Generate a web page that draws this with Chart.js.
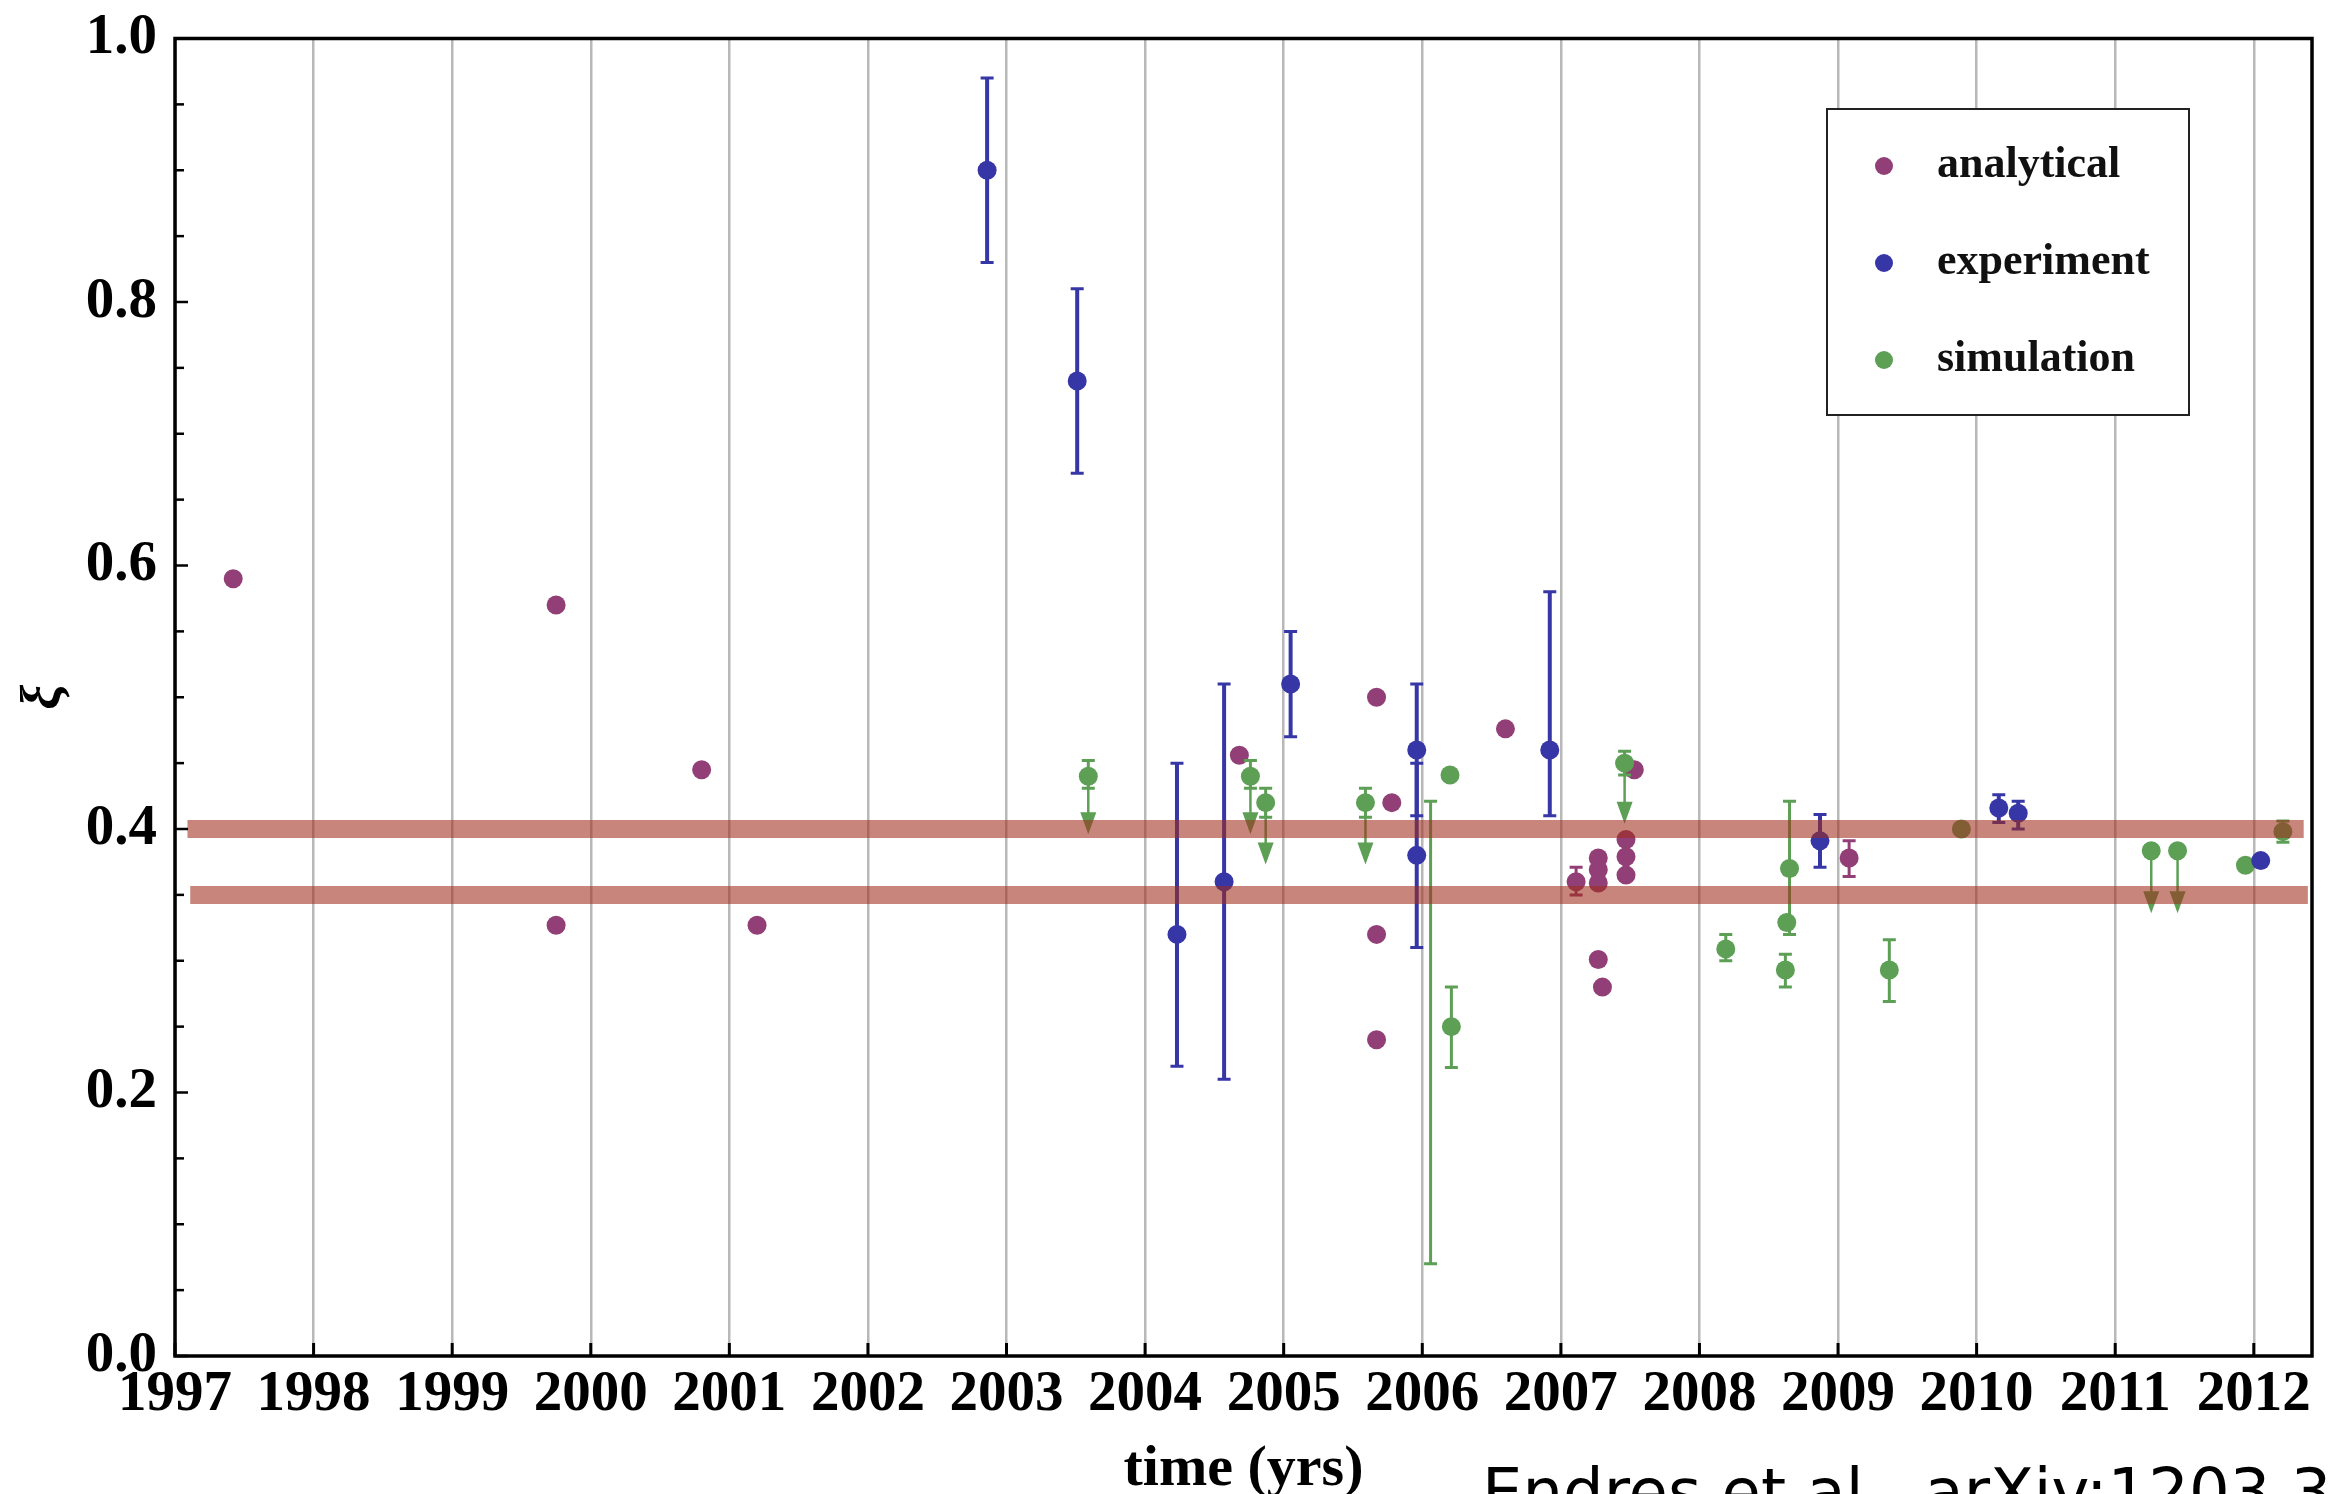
<!DOCTYPE html>
<html>
<head>
<meta charset="utf-8">
<title>xi versus time</title>
<script src="https://cdn.jsdelivr.net/npm/chart.js@4.4.1/dist/chart.umd.min.js"></script>
<style>
  html, body { margin: 0; padding: 0; background: #fff; }
  #wrap { width: 2338px; height: 1494px; }
</style>
</head>
<body>
<div id="wrap"><canvas id="xiChart" width="2338" height="1494"></canvas></div>
<script>
// values (year, xi, error range, upper-limit arrow)
const analyticalYear = [1997.42, 1999.75, 1999.75, 2000.80, 2001.20, 2004.68, 2005.67, 2005.78, 2005.67, 2005.67, 2006.60,
                        2007.11, 2007.27, 2007.27, 2007.27, 2007.27, 2007.30, 2007.47, 2007.47, 2007.47, 2007.53, 2009.08];
const analyticalXi   = [0.590, 0.570, 0.327, 0.445, 0.327, 0.456, 0.500, 0.420, 0.320, 0.240, 0.476,
                        0.360, 0.378, 0.369, 0.359, 0.301, 0.280, 0.392, 0.379, 0.365, 0.445, 0.378];
const analyticalLow  = [null, null, null, null, null, null, null, null, null, null, null,
                        0.350, null, null, null, null, null, null, null, null, null, 0.364];
const analyticalHigh = [null, null, null, null, null, null, null, null, null, null, null,
                        0.371, null, null, null, null, null, null, null, null, null, 0.391];

const experimentYear = [2002.86, 2003.51, 2004.23, 2004.57, 2005.05, 2005.96, 2005.96, 2006.92, 2008.87, 2010.16, 2010.30, 2012.05];
const experimentXi   = [0.900, 0.740, 0.320, 0.360, 0.510, 0.460, 0.380, 0.460, 0.391, 0.416, 0.412, 0.376];
const experimentLow  = [0.830, 0.670, 0.220, 0.210, 0.470, 0.410, 0.310, 0.410, 0.371, 0.405, 0.400, null];
const experimentHigh = [0.970, 0.810, 0.450, 0.510, 0.550, 0.510, 0.450, 0.580, 0.411, 0.426, 0.421, null];

const simulationYear  = [2003.59, 2004.76, 2004.87, 2005.59, 2006.06, 2006.20, 2006.21, 2007.46, 2008.19, 2008.65,
                         2008.63, 2008.62, 2009.37, 2009.89, 2011.26, 2011.45, 2011.94, 2012.21];
const simulationXi    = [0.440, 0.440, 0.420, 0.420, 0.245, 0.441, 0.250, 0.450, 0.309, 0.370,
                         0.329, 0.293, 0.293, 0.400, 0.3835, 0.3835, 0.3725, 0.398];
const simulationLow   = [0.431, 0.431, 0.409, 0.409, 0.070, null, 0.219, 0.441, 0.300, 0.320,
                         null, 0.280, 0.269, null, null, null, null, 0.390];
const simulationHigh  = [0.452, 0.452, 0.431, 0.431, 0.421, null, 0.280, 0.459, 0.320, 0.421,
                         null, 0.305, 0.316, null, null, null, null, 0.406];
const simulationLimit = [0.396, 0.396, 0.373, 0.373, null, null, null, 0.404, null, null,
                         null, null, null, null, 0.336, 0.336, null, null];
const simulationShown = [1, 1, 1, 1, 0, 1, 1, 1, 1, 1, 1, 1, 1, 1, 1, 1, 1, 1];

// the two reference bands
const bandLevel = [0.40, 0.35];
const bandFrom  = [1997.09, 1997.11];
const bandTo    = [2012.36, 2012.39];

const yearTicks = [1997, 1998, 1999, 2000, 2001, 2002, 2003, 2004, 2005, 2006, 2007, 2008, 2009, 2010, 2011, 2012];
const xiLabels  = [0.0, 0.2, 0.4, 0.6, 0.8, 1.0];

const PURPLE = '#913f76';
const BLUE = '#3636a6';
const GREEN = '#5c9f55';
const BAND = 'rgba(160, 45, 28, 0.58)';

function makePoints(years, values, lows, highs, limits, shown) {
    return years.map((x, i) => ({
        x: x,
        y: values[i],
        lo: lows ? lows[i] : null,
        hi: highs ? highs[i] : null,
        limit: limits ? limits[i] : null,
        shown: shown ? shown[i] : 1
    }));
}

function bandData(i) {
    return [{ x: bandFrom[i], y: bandLevel[i] }, { x: bandTo[i], y: bandLevel[i] }];
}

// white page behind everything
const paperPlugin = {
    id: 'paper',
    beforeDraw(chart) {
        const ctx = chart.ctx;
        ctx.save();
        ctx.fillStyle = '#fff';
        ctx.fillRect(0, 0, chart.width, chart.height);
        ctx.restore();
    }
};

// error bars and upper-limit arrows, drawn under each series' markers
const errorBarPlugin = {
    id: 'errorBars',
    beforeDatasetDraw(chart, args) {
        const ds = chart.data.datasets[args.index];
        if (ds.isBand) return;
        const ctx = chart.ctx;
        const x = chart.scales.x, y = chart.scales.y;
        ctx.save();
        ctx.strokeStyle = ds.backgroundColor;
        ctx.fillStyle = ds.backgroundColor;
        ds.data.forEach(p => {
            const px = x.getPixelForValue(p.x);
            if (p.lo != null && p.hi != null) {
                const top = y.getPixelForValue(p.hi);
                const bot = y.getPixelForValue(p.lo);
                ctx.lineWidth = ds.barWidth;
                ctx.beginPath();
                ctx.moveTo(px, top);
                ctx.lineTo(px, bot);
                ctx.stroke();
                ctx.lineWidth = 3;
                ctx.beginPath();
                ctx.moveTo(px - 6.5, top); ctx.lineTo(px + 6.5, top);
                ctx.moveTo(px - 6.5, bot); ctx.lineTo(px + 6.5, bot);
                ctx.stroke();
            }
            if (p.limit != null) {
                const py = y.getPixelForValue(p.y);
                const tip = y.getPixelForValue(p.limit);
                ctx.lineWidth = 2.5;
                ctx.beginPath();
                ctx.moveTo(px, py);
                ctx.lineTo(px, tip - 20);
                ctx.stroke();
                ctx.beginPath();
                ctx.moveTo(px - 8, tip - 22);
                ctx.lineTo(px + 8, tip - 22);
                ctx.lineTo(px, tip);
                ctx.closePath();
                ctx.fill();
            }
        });
        ctx.restore();
    }
};

// frame, inward ticks, legend box and the citation line
const framePlugin = {
    id: 'frame',
    afterDraw(chart) {
        const ctx = chart.ctx;
        const area = chart.chartArea;
        const x = chart.scales.x, y = chart.scales.y;
        ctx.save();
        ctx.strokeStyle = '#000';
        ctx.lineWidth = 3;
        x.ticks.forEach(t => {
            const px = x.getPixelForValue(t.value);
            ctx.beginPath();
            ctx.moveTo(px, area.bottom);
            ctx.lineTo(px, area.bottom - 13);
            ctx.stroke();
        });
        ctx.lineWidth = 2.5;
        y.ticks.forEach(t => {
            const py = y.getPixelForValue(t.value);
            const major = Math.abs(t.value * 5 - Math.round(t.value * 5)) < 1e-6;
            ctx.beginPath();
            ctx.moveTo(area.left, py);
            ctx.lineTo(area.left + (major ? 13 : 9), py);
            ctx.stroke();
        });
        ctx.lineWidth = 3.5;
        ctx.strokeRect(area.left, area.top, area.right - area.left, area.bottom - area.top);

        // legend
        const lx = 1827, ly = 109, lw = 362, lh = 306;
        ctx.fillStyle = '#fff';
        ctx.fillRect(lx, ly, lw, lh);
        ctx.strokeStyle = '#222';
        ctx.lineWidth = 2;
        ctx.strokeRect(lx, ly, lw, lh);
        const series = chart.data.datasets.filter(d => !d.isBand);
        ctx.font = 'bold 44px "Liberation Serif"';
        ctx.textBaseline = 'middle';
        ctx.textAlign = 'left';
        series.forEach((d, i) => {
            const cy = ly + 57 + i * 97;
            ctx.fillStyle = d.backgroundColor;
            ctx.beginPath();
            ctx.arc(lx + 57, cy, 9, 0, Math.PI * 2);
            ctx.fill();
            ctx.fillStyle = '#111';
            ctx.fillText(d.label, lx + 110, cy);
        });

        // citation, cut off by the bottom edge as in the source
        ctx.fillStyle = '#000';
        ctx.textBaseline = 'alphabetic';
        ctx.font = '64px "DejaVu Sans"';
        ctx.fillText('Endres et al., arXiv:1203.3', 1482, 1514);
        ctx.restore();
    }
};

const ctx = document.getElementById('xiChart').getContext('2d');
const xiChart = new Chart(ctx, {
    type: 'scatter',
    data: {
        datasets: [
            {
                label: 'analytical',
                data: makePoints(analyticalYear, analyticalXi, analyticalLow, analyticalHigh),
                backgroundColor: PURPLE,
                barWidth: 3,
                order: 3
            },
            {
                label: 'experiment',
                data: makePoints(experimentYear, experimentXi, experimentLow, experimentHigh),
                backgroundColor: BLUE,
                barWidth: 4,
                order: 1
            },
            {
                label: 'simulation',
                data: makePoints(simulationYear, simulationXi, simulationLow, simulationHigh, simulationLimit, simulationShown),
                backgroundColor: GREEN,
                barWidth: 3,
                order: 2
            },
            {
                type: 'line', label: 'band 0.40', isBand: true, data: bandData(0),
                borderColor: BAND, borderWidth: 18, borderCapStyle: 'butt',
                showLine: true, pointRadius: 0, fill: false, order: -1
            },
            {
                type: 'line', label: 'band 0.35', isBand: true, data: bandData(1),
                borderColor: BAND, borderWidth: 18, borderCapStyle: 'butt',
                showLine: true, pointRadius: 0, fill: false, order: -1
            }
        ]
    },
    options: {
        responsive: false,
        devicePixelRatio: 1,
        animation: false,
        events: [],
        layout: { padding: { top: 36, right: 26, left: 0, bottom: 0 } },
        elements: {
            point: {
                radius: ctx => (ctx.raw && ctx.raw.shown === 0) ? 0 : 9.5,
                borderWidth: 0
            }
        },
        plugins: {
            legend: { display: false },
            tooltip: { enabled: false }
        },
        scales: {
            x: {
                type: 'linear',
                min: 1997,
                max: 2012.42,
                afterBuildTicks: scale => { scale.ticks = yearTicks.map(v => ({ value: v })); },
                afterFit: scale => { scale.height = 138; },
                border: { display: false },
                grid: { color: '#b8b8b8', lineWidth: 2.5, drawTicks: false },
                ticks: {
                    autoSkip: false,
                    maxRotation: 0,
                    padding: 11,
                    color: '#000',
                    font: { family: 'Liberation Serif', size: 57, weight: 'bold', lineHeight: 1 },
                    callback: v => String(Math.round(v))
                },
                title: {
                    display: true,
                    text: 'time (yrs)',
                    color: '#000',
                    padding: { top: 0, bottom: 1 },
                    font: { family: 'Liberation Serif', size: 58, weight: 'bold', lineHeight: 0.8 }
                }
            },
            y: {
                min: 0,
                max: 1,
                afterFit: scale => { scale.width = 175; },
                border: { display: false },
                grid: { display: false },
                ticks: {
                    stepSize: 0.05,
                    padding: 10,
                    color: '#000',
                    font: { family: 'Liberation Serif', size: 57, weight: 'bold', lineHeight: 1 },
                    callback: v => {
                        const hit = xiLabels.find(l => Math.abs(l - v) < 1e-6);
                        return hit === undefined ? '' : hit.toFixed(1);
                    }
                },
                title: {
                    display: true,
                    text: 'ξ',
                    color: '#000',
                    padding: { top: 18, bottom: 0 },
                    font: { family: 'Liberation Serif', size: 56, weight: 'bold', style: 'italic', lineHeight: 1 }
                }
            }
        }
    },
    plugins: [paperPlugin, errorBarPlugin, framePlugin]
});
</script>
</body>
</html>
